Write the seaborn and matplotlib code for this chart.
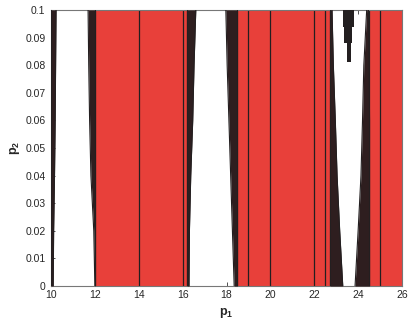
import numpy as np
import pandas as pd
import matplotlib
matplotlib.use("Agg")
import matplotlib.pyplot as plt
import seaborn as sns

# ---------------- Data: region boundaries in p1 at each p2 level ----------------
p2_levels = [0.0, 0.02, 0.04, 0.06, 0.08, 0.1]

# red (stable) bands, split at the drawn cell borders
red_band_1 = [12.0, 14.0, 16.0, 16.2]
red_band_2 = [18.5, 19.0, 20.0, 22.0, 22.5, 22.72]
red_band_3 = [24.5, 25.0, 26.0]

# dark transition wedges: left / right p1 boundary at each p2 level
w0_left = [10.0, 10.0, 10.0, 10.0, 10.0, 10.0]
w0_right = [10.1, 10.12, 10.16, 10.19, 10.21, 10.23]
w1_left = [12.0, 11.95, 11.82, 11.76, 11.72, 11.69]
w1_right = [12.02, 12.02, 12.02, 12.02, 12.02, 12.02]
w2_left = [16.2, 16.2, 16.2, 16.2, 16.2, 16.2]
w2_right = [16.29, 16.31, 16.37, 16.46, 16.52, 16.6]
w3_left = [18.35, 18.27, 18.19, 18.11, 18.03, 17.97]
w3_right = [18.5, 18.5, 18.5, 18.5, 18.5, 18.5]
w4_left = [22.72, 22.72, 22.72, 22.72, 22.72, 22.72]
w4_right = [23.3, 23.16, 23.04, 22.96, 22.87, 22.81]
w5_left = [23.86, 24.0, 24.13, 24.2, 24.26, 24.39]
w5_right = [24.52, 24.52, 24.52, 24.52, 24.5, 24.47]

# small isolated piece near the top
w6_p2 = [0.0813, 0.088, 0.0938, 0.1]
w6_left = [23.48, 23.36, 23.30, 23.30]
w6_right = [23.66, 23.70, 23.81, 23.81]

red = "#e8403a"
dark = "#2e1e1f"
black = "#231f20"

# ---------------- Style ----------------
sns.set_style("ticks")
plt.rcParams["font.family"] = ["Liberation Sans", "DejaVu Sans"]
plt.rcParams["mathtext.fontset"] = "custom"
plt.rcParams["mathtext.bf"] = "Liberation Sans:bold"
plt.rcParams["mathtext.rm"] = "Liberation Sans"

fig, ax = plt.subplots(figsize=(4.09, 3.2), dpi=100)
fig.subplots_adjust(left=51/409, right=402/409, bottom=34/320, top=310/320)

y0, y1 = p2_levels[0], p2_levels[-1]

# red bands + internal cell borders
for band in [red_band_1, red_band_2, red_band_3]:
    ax.fill_betweenx([y0, y1], band[0], band[-1], color=red, lw=0, zorder=1)
    ax.vlines([b for b in band if b < 26], y0, y1, color=black, lw=0.9, zorder=2)

# dark wedges
wedges = [(w0_left, w0_right), (w1_left, w1_right), (w2_left, w2_right),
          (w3_left, w3_right), (w4_left, w4_right), (w5_left, w5_right)]
rows = []
for i, (l, r) in enumerate(wedges):
    ax.fill_betweenx(p2_levels, l, r, color=dark, lw=0, zorder=3)
    for side, xs in [("l", l), ("r", r)]:
        for x, y in zip(xs, p2_levels):
            rows.append({"p1": x, "p2": y, "edge": f"{i}{side}"})
ax.fill_betweenx(w6_p2, w6_left, w6_right, step="post", color=black, lw=0, zorder=3)

edges = pd.DataFrame(rows)
sns.lineplot(data=edges, x="p1", y="p2", units="edge", estimator=None,
             orient="y", sort=True, color=black, lw=0.8, legend=False, ax=ax, zorder=4)

ax.set_xlim(10, 26)
ax.set_ylim(0, 0.1)
ax.set_xticks(np.arange(10, 27, 2))
ax.set_yticks(np.round(np.arange(0, 0.101, 0.01), 2))
ax.set_yticklabels(["0", "0.01", "0.02", "0.03", "0.04", "0.05", "0.06",
                    "0.07", "0.08", "0.09", "0.1"])
ax.set_axisbelow(True)
ax.tick_params(direction="in", length=3, width=0.6, labelsize=7.5,
               top=True, right=True, color="#333333")
ax.tick_params(axis="x", pad=3)
ax.tick_params(axis="y", pad=4)
for s in ax.spines.values():
    s.set_color("#777777")
    s.set_linewidth(0.8)
ax.set_xlabel(r"$\mathbf{p_1}$", fontsize=9, labelpad=4)
ax.set_ylabel(r"$\mathbf{p_2}$", fontsize=9, labelpad=2)

fig.savefig("out.png", dpi=100)
